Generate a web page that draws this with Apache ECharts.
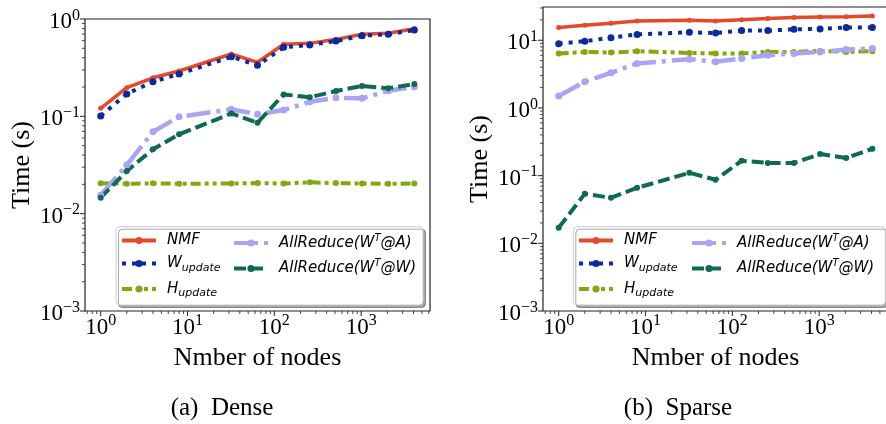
<!DOCTYPE html>
<html><head><meta charset="utf-8">
<script src="https://cdn.jsdelivr.net/npm/echarts@6/dist/echarts.min.js"></script>
<style>html,body{margin:0;padding:0;background:#fff}#c{width:886px;height:424px}</style>
</head><body><div id="c"></div>
<script>
// ---- data ----
const nodes = [1, 2, 4, 8, 32, 64, 128, 256, 512, 1024, 2048, 4096];
const seriesNames = ['NMF', 'W_update', 'H_update', 'AllReduce(W^T@A)', 'AllReduce(W^T@W)'];
const denseNMF = [0.121, 0.197, 0.249, 0.292, 0.437, 0.359, 0.55, 0.562, 0.618, 0.696, 0.713, 0.795];
const denseW   = [0.101, 0.170, 0.227, 0.272, 0.410, 0.334, 0.512, 0.541, 0.594, 0.674, 0.696, 0.771];
const denseH   = [0.0205, 0.0203, 0.0205, 0.0203, 0.0204, 0.0206, 0.0204, 0.021, 0.0206, 0.0204, 0.0203, 0.0204];
const denseWtA = [0.0155, 0.0316, 0.0695, 0.099, 0.118, 0.105, 0.116, 0.141, 0.155, 0.153, 0.183, 0.201];
const denseWtW = [0.0146, 0.0274, 0.0458, 0.0653, 0.107, 0.086, 0.168, 0.157, 0.182, 0.205, 0.194, 0.215];
const sparseNMF = [15.4, 16.6, 17.8, 19.2, 19.7, 19.2, 20.1, 20.9, 21.6, 22.0, 22.3, 22.8];
const sparseW   = [8.9, 9.7, 10.9, 12.2, 13.1, 12.8, 13.9, 13.9, 14.5, 14.7, 15.5, 15.5];
const sparseH   = [6.37, 6.73, 6.59, 6.89, 6.5, 6.37, 6.37, 6.73, 6.73, 6.96, 6.73, 6.89];
const sparseWtA = [1.5, 2.44, 3.31, 4.54, 5.26, 4.8, 5.38, 6.02, 6.37, 6.73, 7.3, 7.55];
const sparseWtW = [0.017, 0.0538, 0.047, 0.066, 0.11, 0.087, 0.166, 0.154, 0.154, 0.208, 0.182, 0.249];
const xRange = [0.66, 6200];
const denseYRange = [0.001, 1];
const sparseYRange = [0.001, 31];
const captions = ['(a)\u2002Dense', '(b)\u2002Sparse'];
const xName = 'Nmber of nodes';
const yName = 'Time (s)';

// ---- styles ----
const styles = [
  { color: '#e6492a', width: 3.5, type: 'solid', size: 5 },
  { color: '#0b2a9e', width: 4, type: [4, 6], size: 7 },
  { color: '#82a80f', width: 4, type: [10, 4, 4, 4, 4, 4], size: 6 },
  { color: '#a9a4f6', width: 4.5, type: [24, 6, 4, 6], size: 7 },
  { color: '#0e6a52', width: 4, type: [12, 5], size: 6 }
];
const SERIF = 'Liberation Serif';
const tickRich = {
  b: { fontFamily: SERIF, fontSize: 23, lineHeight: 23, padding: [6, 0, 0, 0], color: '#000' },
  s: { fontFamily: SERIF, fontSize: 16, lineHeight: 16, verticalAlign: 'top', color: '#000' }
};
function powLabel(v) {
  const e = Math.log10(v), r = Math.round(e);
  if (Math.abs(e - r) > 1e-6) return '';
  return '{b|10}{s|' + (r < 0 ? '\u2212' + (-r) : r) + '}';
}
const legRich = {
  sp: { width: 6, fontSize: 15, lineHeight: 20 },
  n: { fontFamily: 'DejaVu Sans', fontStyle: 'italic', fontSize: 15, lineHeight: 20, color: '#000' },
  sub: { fontFamily: 'DejaVu Sans', fontStyle: 'italic', fontSize: 11, lineHeight: 12, verticalAlign: 'bottom', color: '#000' },
  sup: { fontFamily: 'DejaVu Sans', fontStyle: 'italic', fontSize: 10, lineHeight: 10, verticalAlign: 'top', color: '#000' }
};
function legFmt(name) {
  if (name === 'W_update') return '{sp| }{n|W}{sub|update}';
  if (name === 'H_update') return '{sp| }{n|H}{sub|update}';
  const m = name.match(/^AllReduce\(W\^T@(\w)\)$/);
  if (m) return '{sp| }{n|AllReduce(W}{sup|T}{n|@' + m[1] + ')}';
  return '{sp| }{n|' + name + '}';
}

const grids = [
  { left: 85, top: 19, width: 345, height: 292 },
  { left: 543, top: 7, width: 345, height: 304 }
];
const yRanges = [denseYRange, sparseYRange];
const panelData = [
  [denseNMF, denseW, denseH, denseWtA, denseWtW],
  [sparseNMF, sparseW, sparseH, sparseWtA, sparseWtW]
];

const option = {
  animation: false,
  backgroundColor: '#fff',
  grid: grids.map(g => Object.assign({ show: true, borderColor: '#222', borderWidth: 1.2, backgroundColor: 'transparent', containLabel: false, outerBoundsMode: 'none' }, g)),
  title: captions.map((t, i) => ({
    text: t, left: i === 0 ? 217 : 673, top: 391, textAlign: 'center',
    textStyle: { fontFamily: SERIF, fontSize: 25, fontWeight: 'normal', color: '#000' }
  })),
  xAxis: grids.map((g, i) => ({
    type: 'log', logBase: 10, gridIndex: i, min: xRange[0], max: xRange[1],
    axisLine: { show: false }, axisTick: { show: false }, splitLine: { show: false },
    axisLabel: { formatter: powLabel, rich: tickRich, margin: 2 },
    name: xName, nameLocation: 'middle', nameGap: 34,
    nameTextStyle: { fontFamily: SERIF, fontSize: 26, color: '#000' }
  })),
  yAxis: grids.map((g, i) => ({
    type: 'log', logBase: 10, gridIndex: i, min: yRanges[i][0], max: yRanges[i][1],
    axisLine: { show: false }, axisTick: { show: false }, splitLine: { show: false },
    axisLabel: { formatter: powLabel, rich: tickRich, margin: 5 },
    name: yName, nameLocation: 'middle', nameGap: 50,
    nameTextStyle: { fontFamily: SERIF, fontSize: 26, color: '#000' }
  })),
  legend: [
    { names: seriesNames.slice(0, 3), left: 120 },
    { names: seriesNames.slice(3), left: 232 },
    { names: seriesNames.slice(0, 3), left: 577 },
    { names: seriesNames.slice(3), left: 690 }
  ].map(l => ({
    data: l.names, left: l.left, top: 233, orient: 'vertical', itemGap: 8,
    itemWidth: 34, itemHeight: 9, padding: 0, z: 10, selectedMode: false,
    lineStyle: { width: 4 },
    formatter: legFmt, textStyle: { rich: legRich }
  })),
  series: []
};
panelData.forEach((arrs, p) => {
  arrs.forEach((vals, k) => {
    const st = styles[k];
    option.series.push({
      type: 'line', name: seriesNames[k], xAxisIndex: p, yAxisIndex: p,
      data: nodes.map((n, j) => [n, vals[j]]),
      symbol: 'circle', symbolSize: st.size, showSymbol: true,
      lineStyle: { color: st.color, width: st.width, type: st.type },
      itemStyle: { color: st.color },
      emphasis: { disabled: true }, silent: true
    });
  });
});

const chart = echarts.init(document.getElementById('c'), null, { renderer: 'canvas' });
chart.setOption(option);

// ticks (major + minor, matplotlib-like) placed through the axes' scales
const gfx = [];
const boxes = [{ x: 116, y: 226.7, w: 307, h: 78.3 }, { x: 573.3, y: 226.7, w: 312, h: 78.3 }];
boxes.forEach(b => gfx.push({
  type: 'rect', z: 8, shape: { x: b.x, y: b.y, width: b.w, height: b.h, r: 4 },
  style: { fill: '#fff', stroke: '#cccccc', lineWidth: 1, shadowColor: 'rgba(0,0,0,0.35)', shadowOffsetX: 2.5, shadowOffsetY: 2.5, shadowBlur: 0 },
  silent: true
}));
function logTicks(vmin, vmax, cb) {
  for (let e = Math.floor(Math.log10(vmin)); e <= Math.ceil(Math.log10(vmax)); e++) {
    for (let k = 1; k <= 9; k++) {
      const v = k * Math.pow(10, e);
      if (v < vmin * 0.9999 || v > vmax * 1.0001) continue;
      cb(v, k === 1);
    }
  }
}
grids.forEach((g, i) => {
  const yBase = chart.convertToPixel({ yAxisIndex: i }, yRanges[i][0]);
  const xBase = chart.convertToPixel({ xAxisIndex: i }, xRange[0]);
  logTicks(xRange[0], xRange[1], (v, major) => {
    const px = chart.convertToPixel({ xAxisIndex: i }, v);
    gfx.push({ type: 'line', silent: true, shape: { x1: px, y1: yBase, x2: px, y2: yBase + (major ? 5 : 3) }, style: { stroke: '#333', lineWidth: major ? 1.1 : 0.9 } });
  });
  logTicks(yRanges[i][0], yRanges[i][1], (v, major) => {
    const py = chart.convertToPixel({ yAxisIndex: i }, v);
    gfx.push({ type: 'line', silent: true, shape: { x1: xBase, y1: py, x2: xBase - (major ? 5 : 3), y2: py }, style: { stroke: '#333', lineWidth: major ? 1.1 : 0.9 } });
  });
});
chart.setOption({ graphic: { elements: gfx } });
</script>
</body></html>
